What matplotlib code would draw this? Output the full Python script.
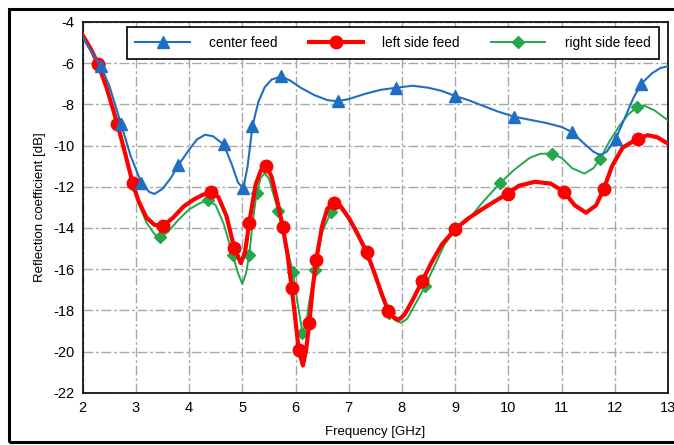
import numpy as np
import matplotlib
matplotlib.use("Agg")
import matplotlib.pyplot as plt
from matplotlib.patches import Rectangle

# center feed
center_f = [2.0, 2.15, 2.34, 2.5, 2.72, 2.9, 3.1, 3.25, 3.35, 3.5, 3.65, 3.8, 4.0, 4.15,
            4.3, 4.45, 4.65, 4.8, 4.92, 5.02, 5.1, 5.19, 5.3, 5.42, 5.55, 5.73, 5.9, 6.1,
            6.35, 6.6, 6.79, 7.0, 7.3, 7.6, 7.89, 8.2, 8.5, 8.75, 9.0, 9.25, 9.5, 9.8,
            10.11, 10.4, 10.7, 11.0, 11.2, 11.4, 11.6, 11.73, 11.85, 12.02, 12.2, 12.35,
            12.5, 12.7, 12.85, 13.0]
center_db = [-4.75, -5.4, -6.15, -7.1, -8.95, -10.5, -11.8, -12.25, -12.35, -12.1, -11.6,
             -10.95, -10.2, -9.7, -9.48, -9.55, -9.95, -10.9, -11.8, -12.08, -11.0, -9.07,
             -7.9, -7.18, -6.8, -6.65, -6.85, -7.2, -7.55, -7.8, -7.85, -7.75, -7.5, -7.3,
             -7.2, -7.1, -7.2, -7.35, -7.6, -7.8, -8.05, -8.35, -8.6, -8.75, -8.9, -9.1,
             -9.35, -9.85, -10.3, -10.47, -10.3, -9.67, -8.6, -7.7, -7.0, -6.5, -6.25, -6.15]
center_marks = [2.34, 2.72, 3.1, 3.8, 4.65, 5.02, 5.19, 5.73, 6.79, 7.89, 9.0, 10.11, 11.2,
                12.02, 12.5]

# left side feed
left_f = [2.0, 2.15, 2.29, 2.45, 2.65, 2.8, 2.94, 3.05, 3.2, 3.35, 3.51, 3.7, 3.9, 4.1,
          4.25, 4.42, 4.55, 4.7, 4.85, 4.97, 5.05, 5.13, 5.25, 5.35, 5.44, 5.55, 5.65,
          5.76, 5.85, 5.93, 6.0, 6.06, 6.14, 6.2, 6.26, 6.32, 6.39, 6.5, 6.6, 6.73, 6.85,
          7.0, 7.15, 7.34, 7.5, 7.62, 7.74, 7.85, 7.94, 8.05, 8.2, 8.38, 8.55, 8.75, 9.0,
          9.25, 9.5, 9.75, 9.99, 10.2, 10.5, 10.8, 11.04, 11.25, 11.46, 11.65, 11.79,
          11.95, 12.15, 12.43, 12.62, 12.8, 13.0]
left_db = [-4.65, -5.3, -6.05, -7.2, -8.94, -10.4, -11.84, -12.7, -13.5, -13.85, -13.9,
           -13.5, -12.95, -12.6, -12.4, -12.25, -12.5, -13.4, -14.98, -15.7, -15.2, -13.74,
           -11.9, -11.2, -11.0, -11.5, -12.6, -13.94, -15.3, -16.92, -18.5, -19.93, -20.67,
           -19.9, -18.6, -17.0, -15.54, -13.9, -13.05, -12.77, -12.95, -13.5, -14.2, -15.18,
           -16.3, -17.2, -18.01, -18.35, -18.45, -18.2, -17.5, -16.59, -15.7, -14.8, -14.06,
           -13.53, -13.1, -12.7, -12.33, -11.95, -11.76, -11.85, -12.24, -12.9, -13.26,
           -12.9, -12.13, -11.0, -10.1, -9.67, -9.5, -9.6, -9.91]
left_marks = [2.29, 2.65, 2.94, 3.51, 4.42, 4.85, 5.13, 5.44, 5.76, 5.93, 6.06, 6.26, 6.39,
              6.73, 7.34, 7.74, 8.38, 9.0, 9.99, 11.04, 11.79, 12.43]

# right side feed
right_f = [2.0, 2.15, 2.3, 2.45, 2.68, 2.8, 2.95, 3.05, 3.2, 3.35, 3.45, 3.6, 3.8, 4.0,
           4.2, 4.36, 4.5, 4.65, 4.82, 4.92, 5.0, 5.07, 5.13, 5.2, 5.27, 5.35, 5.42, 5.5,
           5.6, 5.68, 5.8, 5.95, 6.05, 6.13, 6.17, 6.25, 6.36, 6.5, 6.67, 6.75, 6.85, 7.0,
           7.15, 7.34, 7.5, 7.62, 7.76, 7.88, 7.99, 8.1, 8.25, 8.44, 8.6, 8.8, 9.0, 9.25,
           9.5, 9.84, 10.1, 10.4, 10.6, 10.82, 11.0, 11.2, 11.43, 11.6, 11.73, 11.9, 12.1,
           12.25, 12.42, 12.55, 12.75, 13.0]
right_db = [-4.7, -5.35, -6.1, -7.25, -9.0, -10.4, -11.9, -12.8, -13.75, -14.3, -14.45,
            -14.2, -13.6, -13.1, -12.8, -12.65, -12.9, -13.8, -15.3, -16.2, -16.71, -16.2,
            -15.3, -13.6, -12.3, -11.55, -11.35, -11.6, -12.5, -13.2, -14.5, -16.15, -17.8,
            -19.09, -19.2, -17.7, -16.06, -14.2, -13.21, -13.0, -13.05, -13.6, -14.3,
            -15.25, -16.35, -17.3, -18.1, -18.5, -18.6, -18.4, -17.7, -16.81, -15.9, -14.8,
            -14.1, -13.6, -12.8, -11.84, -11.2, -10.6, -10.4, -10.39, -10.6, -11.1, -11.36,
            -11.1, -10.63, -9.8, -9.0, -8.5, -8.14, -8.06, -8.3, -8.78]
right_marks = [2.3, 2.68, 2.95, 3.45, 4.36, 4.82, 5.13, 5.27, 5.68, 5.95, 6.13, 6.36, 6.67,
               7.34, 7.76, 8.44, 9.0, 9.84, 10.82, 11.73, 12.42]

labels = ["center feed", "left side feed", "right side feed"]

plt.rcParams["font.family"] = ["Liberation Sans", "DejaVu Sans"]
plt.rcParams["axes.unicode_minus"] = False

fig = plt.figure(figsize=(6.74, 4.45), dpi=100)
ax = fig.add_axes([0.1227, 0.117, 0.8683, 0.834])

# outer frame around the whole figure (right side runs off the picture)
fig.patches.append(Rectangle((9 / 674, 3 / 445), 1.2, 1 - 12 / 445, transform=fig.transFigure,
                             fill=False, edgecolor="black", linewidth=2.2))


def marks(f, m):
    return [i for i, v in enumerate(f) if v in m]


ax.plot(right_f, right_db, color="#22a84a", linewidth=1.4, marker="D", markersize=6,
        markevery=marks(right_f, right_marks), label=labels[2], zorder=3)
ax.plot(left_f, left_db, color="#ff0000", linewidth=3.0, marker="o", markersize=9,
        markevery=marks(left_f, left_marks), label=labels[1], zorder=4)
ax.plot(center_f, center_db, color="#1e6fc4", linewidth=1.5, marker="^", markersize=8,
        markevery=marks(center_f, center_marks), label=labels[0], zorder=5)

ax.set_xlim(2, 13)
ax.set_ylim(-22, -4)
ax.set_xticks(np.arange(2, 14, 1))
ax.set_yticks(np.arange(-22, -3, 2))
ax.tick_params(length=0, labelsize=10.5, pad=6)
ax.grid(True, color="#a8a8a8", linestyle=(0, (7, 2, 2, 2)), linewidth=1.0)
for s in ax.spines.values():
    s.set_linewidth(1.2)

ax.set_xlabel("Frequency [GHz]", fontsize=9.5, labelpad=8)
ax.set_ylabel("Reflection coefficient [dB]", fontsize=9.5, labelpad=5)

h, l = ax.get_legend_handles_labels()
leg = ax.legend(h[::-1], l[::-1], loc="upper center", bbox_to_anchor=(0.53, 0.985), ncol=3,
                fancybox=False, framealpha=1, edgecolor="black", fontsize=9.8,
                handlelength=4.0, columnspacing=2.3, handletextpad=1.4, borderpad=0.65,
                borderaxespad=0)
leg.get_frame().set_linewidth(1.2)

fig.savefig("out.png", dpi=100)
